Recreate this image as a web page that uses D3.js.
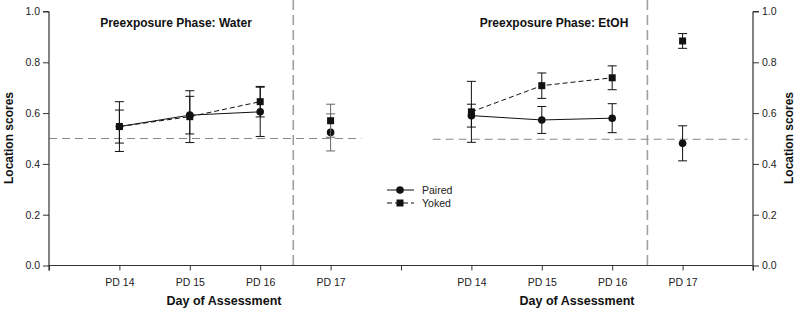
<!DOCTYPE html>
<html>
<head>
<meta charset="utf-8">
<script src="https://cdn.jsdelivr.net/npm/d3@7"></script>
<style>
  body { margin: 0; background: #fff; }
  svg { display: block; font-family: "Liberation Sans", Arial, sans-serif; }
</style>
</head>
<body>
<svg id="chart" width="800" height="311"></svg>
<script>
// ---- data ----
const days = ["PD 14", "PD 15", "PD 16", "PD 17"];
const panels = ["Preexposure Phase: Water", "Preexposure Phase: EtOH"];
const yTicks = [0.0, 0.2, 0.4, 0.6, 0.8, 1.0];
const chance = [0.5, 0.497];

const waterPaired    = [0.547, 0.592, 0.605, 0.524];
const waterPairedErr = [0.065, 0.074, 0.097, 0.073];
const waterYoked     = [0.547, 0.586, 0.645, 0.570];
const waterYokedErr  = [0.098, 0.102, 0.060, 0.065];

const etohPaired     = [0.590, 0.573, 0.580, 0.481];
const etohPairedErr  = [0.045, 0.053, 0.057, 0.069];
const etohYoked      = [0.605, 0.708, 0.739, 0.884];
const etohYokedErr   = [0.120, 0.050, 0.047, 0.029];

const legendLabels = ["Paired", "Yoked"];

// ---- layout ----
const svg = d3.select("#chart");
const x = d3.scaleLinear().domain([0, 10]).range([49, 753]);
const y = d3.scaleLinear().domain([0, 1]).range([265.5, 11.5]);
const pos = (panel, i) => panel * 5 + 1 + i;

// reference lines
const refColor = "#a0a0a0";
[3.47, 8.5].forEach(v => {
  svg.append("line")
    .attr("x1", x(v)).attr("x2", x(v))
    .attr("y1", 0).attr("y2", y(0))
    .attr("stroke", refColor).attr("stroke-width", 1.6)
    .attr("stroke-dasharray", "10,5");
});
svg.append("line")
  .attr("x1", x(0)).attr("x2", x(4.44))
  .attr("y1", y(chance[0])).attr("y2", y(chance[0]))
  .attr("stroke", "#888").attr("stroke-width", 1)
  .attr("stroke-dasharray", "8,5");
svg.append("line")
  .attr("x1", x(5.45)).attr("x2", x(9.92))
  .attr("y1", y(chance[1])).attr("y2", y(chance[1]))
  .attr("stroke", "#888").attr("stroke-width", 1)
  .attr("stroke-dasharray", "8,5");

// axes
const axisColor = "#333";
const yl = svg.append("g").attr("transform", `translate(${x(0)},0)`)
  .call(d3.axisLeft(y).tickValues(yTicks).tickFormat(d3.format(".1f")).tickSize(6).tickPadding(3));
const yr = svg.append("g").attr("transform", `translate(${x(10)},0)`)
  .call(d3.axisRight(y).tickValues(yTicks).tickFormat(d3.format(".1f")).tickSize(6).tickPadding(3));
const xTickVals = d3.range(0, 11);
const xLabel = v => (v === 0 || v === 5 || v === 10) ? "" : days[(v % 5) - 1];
const xa = svg.append("g").attr("transform", `translate(0,${y(0)})`)
  .call(d3.axisBottom(x).tickValues(xTickVals).tickFormat(xLabel).tickSize(5).tickPadding(8));
[yl, yr, xa].forEach(g => {
  g.select(".domain").attr("stroke", axisColor).attr("stroke-width", 1.2);
  g.selectAll(".tick line").attr("stroke", axisColor);
  g.selectAll("text").attr("font-size", 10.5).attr("fill", "#222")
    .attr("font-family", "Liberation Sans, Arial, sans-serif");
});
yl.select(".domain").attr("d", `M0,${y(1)}H-6M0,${y(1)}V${y(0)}`);
yr.select(".domain").attr("d", `M0,${y(1)}H6M0,${y(1)}V${y(0)}`);
xa.select(".domain").attr("d", `M${x(0)},5V0H${x(10)}V5`);

// titles and axis labels
const titleX = [176, 554];
panels.forEach((t, p) => {
  svg.append("text").attr("x", titleX[p]).attr("y", 27)
    .attr("text-anchor", "middle").attr("font-weight", "bold")
    .attr("font-size", 12).attr("fill", "#111").text(t);
  svg.append("text").attr("x", [224, 577][p]).attr("y", 305)
    .attr("text-anchor", "middle").attr("font-weight", "bold")
    .attr("font-size", 12.5).attr("fill", "#111").text("Day of Assessment");
});
[[13, 138], [793, 138]].forEach(([cx, cy]) => {
  svg.append("text").attr("transform", `translate(${cx},${cy}) rotate(-90)`)
    .attr("text-anchor", "middle").attr("font-weight", "bold")
    .attr("font-size", 12).attr("fill", "#111").text("Location scores");
});

// series
const series = [
  { panel: 0, vals: waterPaired, err: waterPairedErr, shape: "circle", dash: null },
  { panel: 0, vals: waterYoked,  err: waterYokedErr,  shape: "square", dash: "5,3" },
  { panel: 1, vals: etohPaired,  err: etohPairedErr,  shape: "circle", dash: null },
  { panel: 1, vals: etohYoked,   err: etohYokedErr,   shape: "square", dash: "5,3" }
];
const line = d3.line().x(d => x(d.x)).y(d => y(d.v));

series.forEach(s => {
  const pts = s.vals.map((v, i) => ({ x: pos(s.panel, i), v, e: s.err[i], i }));
  svg.append("path").datum(pts.slice(0, 3)).attr("d", line)
    .attr("fill", "none").attr("stroke", "#111").attr("stroke-width", 1)
    .attr("stroke-dasharray", s.dash);
  pts.forEach(d => {
    const c = (s.panel === 0 && d.i === 3) ? "#666" : "#111";
    const g = svg.append("g").attr("stroke", c).attr("stroke-width", 1);
    g.append("line").attr("x1", x(d.x)).attr("x2", x(d.x)).attr("y1", y(d.v - d.e)).attr("y2", y(d.v + d.e));
    [d.v - d.e, d.v + d.e].forEach(b => {
      g.append("line").attr("x1", x(d.x) - 4.5).attr("x2", x(d.x) + 4.5).attr("y1", y(b)).attr("y2", y(b));
    });
  });
  pts.forEach(d => {
    if (s.shape === "circle") {
      svg.append("circle").attr("cx", x(d.x)).attr("cy", y(d.v)).attr("r", 3.8).attr("fill", "#111");
    } else {
      svg.append("rect").attr("x", x(d.x) - 3.5).attr("y", y(d.v) - 3.5)
        .attr("width", 7).attr("height", 7).attr("fill", "#111");
    }
  });
});

// legend
const lg = svg.append("g");
legendLabels.forEach((lab, k) => {
  const ly = 190 + k * 13;
  lg.append("line").attr("x1", 387).attr("x2", 414).attr("y1", ly).attr("y2", ly)
    .attr("stroke", "#111").attr("stroke-width", 1).attr("stroke-dasharray", k ? "5,3" : null);
  if (k === 0) lg.append("circle").attr("cx", 400).attr("cy", ly).attr("r", 3.8).attr("fill", "#111");
  else lg.append("rect").attr("x", 396.5).attr("y", ly - 3.5).attr("width", 7).attr("height", 7).attr("fill", "#111");
  lg.append("text").attr("x", 422).attr("y", ly + 3.5).attr("font-size", 10.5).attr("fill", "#222").text(lab);
});
</script>
</body>
</html>
